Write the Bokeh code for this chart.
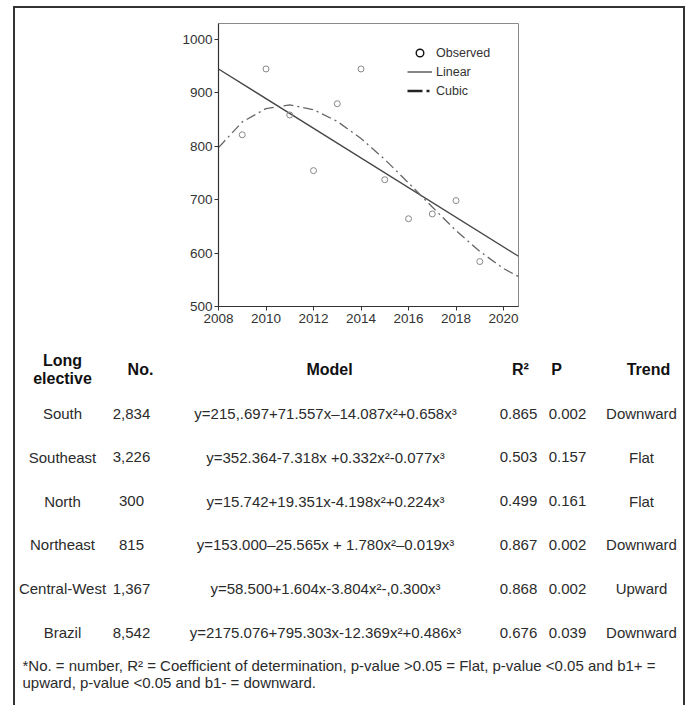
import numpy as np
from bokeh.plotting import figure
from bokeh.models import (Range1d, FixedTicker, Legend, LegendItem,
                          ColumnDataSource, Div)
from bokeh.embed import file_html
from bokeh.resources import INLINE
from bokeh.core.properties import value

# ---------------- chart data ----------------
obs_years = [2009, 2010, 2011, 2012, 2013, 2014, 2015, 2016, 2017, 2018, 2019]
obs_values = [821, 944, 858, 754, 879, 944, 737, 664, 673, 698, 584]

linear_years = [2008, 2020.63]
linear_values = [944, 594]

cubic_years = [2008, 2009, 2010, 2011, 2012, 2013, 2014, 2015, 2016,
               2017, 2018, 2019, 2020, 2020.63]
cubic_values = [797, 845, 870, 877, 868, 846, 814, 775, 731,
                686, 642, 603, 571, 556]

x_ticks = [2008, 2010, 2012, 2014, 2016, 2018, 2020]
y_ticks = [500, 600, 700, 800, 900, 1000]
legend_labels = ["Observed", "Linear", "Cubic"]

# ---------------- table data ----------------
header_labels = ["Long\nelective", "No.", "Model", "R²", "P", "Trend"]
regions = ["South", "Southeast", "North", "Northeast", "Central-West", "Brazil"]
numbers = ["2,834", "3,226", "300", "815", "1,367", "8,542"]
models = [
    "y=215,.697+71.557x–14.087x²+0.658x³",
    "y=352.364-7.318x +0.332x²-0.077x³",
    "y=15.742+19.351x-4.198x²+0.224x³",
    "y=153.000–25.565x + 1.780x²–0.019x³",
    "y=58.500+1.604x-3.804x²-,0.300x³",
    "y=2175.076+795.303x-12.369x²+0.486x³",
]
r2_values = ["0.865", "0.503", "0.499", "0.867", "0.868", "0.676"]
p_values = ["0.002", "0.157", "0.161", "0.002", "0.002", "0.039"]
trends = ["Downward", "Flat", "Flat", "Downward", "Upward", "Downward"]
footnotes = [
    "*No. = number, R² = Coefficient of determination, p-value >0.05 = Flat, p-value <0.05 and b1+ =",
    "upward, p-value <0.05 and b1- = downward.",
]

# ---------------- styling / layout constants ----------------
FONT = "Liberation Sans"
INK = "#2b2b2b"
X0, X1 = 2008, 2020.63
Y0, Y1 = 500, 1029

# ---------------- chart figure ----------------
pA = figure(frame_width=300, frame_height=283,
            min_border_left=218, min_border_right=172,
            min_border_top=23, min_border_bottom=32,
            x_range=Range1d(X0, X1), y_range=Range1d(Y0, Y1),
            output_backend="svg", toolbar_location=None, tools="")
pA.background_fill_color = "white"
pA.border_fill_color = "white"
pA.xgrid.visible = False
pA.ygrid.visible = False
pA.outline_line_color = "#8a8a8a"
pA.outline_line_width = 1

pA.xaxis.ticker = FixedTicker(ticks=x_ticks)
pA.yaxis.ticker = FixedTicker(ticks=y_ticks)
for ax in (pA.xaxis[0], pA.yaxis[0]):
    ax.axis_line_color = "#333333"
    ax.axis_line_width = 1.2
    ax.major_tick_line_color = "#333333"
    ax.major_tick_out = 4
    ax.major_tick_in = 0
    ax.minor_tick_line_color = None
    ax.major_label_text_font = FONT
    ax.major_label_text_font_size = "13.5px"
    ax.major_label_text_color = "#333333"
pA.xaxis.major_label_standoff = 3
pA.yaxis.major_label_standoff = 2

lin = pA.line(linear_years, linear_values, line_color="#444444", line_width=1.3)
cub = pA.line(cubic_years, cubic_values, line_color="#666666", line_width=1.3,
              line_dash="10 4 2 4")
obs = pA.scatter(obs_years, obs_values, marker="circle", size=6,
                 fill_color=None, line_color="#888888", line_width=1)

# hidden twins of the series, used only for the bolder legend symbols
leg_obs = pA.scatter(obs_years, obs_values, marker="circle", fill_color=None,
                     line_color="#111111", line_width=1.4, visible=False)
leg_cub = pA.line(cubic_years, cubic_values, line_color="#222222",
                  line_width=2.6, line_dash="15 4 3 6", visible=False)

legend = Legend(items=[
    LegendItem(label=legend_labels[0], renderers=[leg_obs]),
    LegendItem(label=legend_labels[1], renderers=[lin]),
    LegendItem(label=legend_labels[2], renderers=[leg_cub]),
])
legend.location = (189, 206)
legend.padding = 0
legend.margin = 0
legend.spacing = 0
legend.glyph_width = 25
legend.glyph_height = 19
legend.label_height = 19
legend.label_standoff = 4
legend.label_text_font = FONT
legend.label_text_font_size = "12.5px"
legend.label_text_color = "#333333"
legend.border_line_color = None
legend.background_fill_alpha = 0
pA.add_layout(legend)

# ---------------- table figure ----------------
pB = figure(width=690, height=367, x_range=Range1d(0, 690),
            y_range=Range1d(705, 338), min_border=0,
            x_axis_location=None, y_axis_location=None,
            output_backend="svg", toolbar_location=None, tools="")
pB.grid.visible = False
pB.outline_line_color = None
pB.background_fill_color = "white"
pB.border_fill_color = "white"

header_x = [62, 140, 329, 520, 556, 648]
hdr = ColumnDataSource(dict(x=header_x, y=[369] * len(header_labels), text=header_labels))
pB.text(x="x", y="y", text="text", source=hdr, text_align="center",
        text_baseline="middle", text_font=value(FONT), text_font_size="16px",
        text_font_style="bold", text_color="#111111", text_line_height=1.05)

row_y = [413 + 43.8 * i for i in range(len(regions))]
src = ColumnDataSource(dict(region=regions, number=numbers, model=models,
                            r2=r2_values, p=p_values, trend=trends, y=row_y))
for field, x in [("region", 62), ("number", 131), ("model", 325),
                 ("r2", 518), ("p", 567), ("trend", 641)]:
    pB.text(x=x, y="y", text=field, source=src, text_align="center",
            text_baseline="middle", text_font=value(FONT),
            text_font_size="15px", text_color=INK)

fn = ColumnDataSource(dict(x=[22, 22], y=[665, 682], text=footnotes))
pB.text(x="x", y="y", text="text", source=fn, text_align="left",
        text_baseline="middle", text_font=value(FONT), text_font_size="15px",
        text_color=INK)

# outer frame of the figure panel (open at the bottom)
frame_box = Div(text="", width=672, height=699, margin=0, styles={
    "position": "absolute", "left": "13px", "top": "6px",
    "border-left": "2px solid #333", "border-top": "2px solid #333",
    "border-right": "2px solid #333", "border-bottom": "none",
    "box-sizing": "border-box", "pointer-events": "none",
    "z-index": "10", "background": "transparent",
})

open("out.html", "w").write(file_html([pA, pB, frame_box], INLINE))
